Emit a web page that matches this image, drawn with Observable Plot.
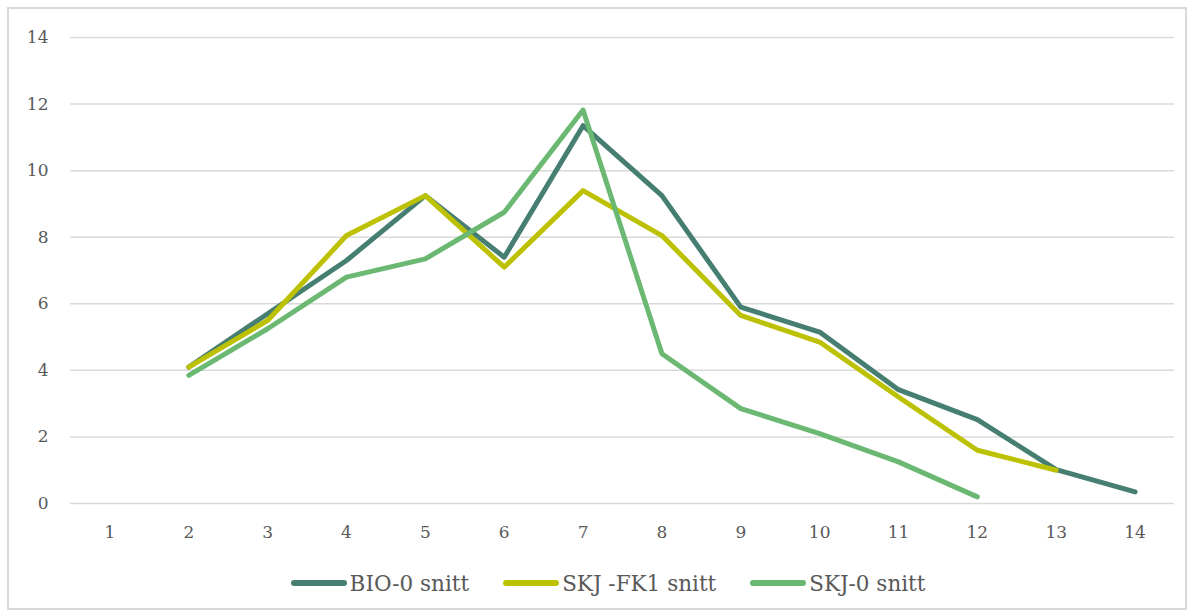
<!DOCTYPE html>
<html>
<head>
<meta charset="utf-8">
<script src="https://cdn.jsdelivr.net/npm/d3@7"></script>
<script src="https://cdn.jsdelivr.net/npm/@observablehq/plot@0.6"></script>
<style>
  html, body { margin: 0; padding: 0; background: #fff; }
  #wrap { position: relative; width: 1192px; height: 615px; overflow: hidden; font-family: "DejaVu Serif", serif; }
  #frame { position: absolute; left: 7px; top: 7px; width: 1180px; height: 603px; border: 2px solid #d9d9d9; box-sizing: border-box; }
  #chart { position: absolute; left: 0; top: 0; }
  #chart svg text { font-family: "DejaVu Serif", serif !important; font-size: 17px !important; fill: #595959; }
  #legend { position: absolute; left: 0; top: 568px; width: 1216px; height: 30px; display: flex; justify-content: center; align-items: center; gap: 34px; font-size: 21.5px; color: #595959; }
  .item { display: flex; align-items: center; }
  .sw { width: 56px; height: 6px; border-radius: 3px; margin-right: 3px; }
</style>
</head>
<body>
<div id="wrap">
  <div id="frame"></div>
  <div id="chart"></div>
  <div id="legend"></div>
</div>
<script>
const categories = [1, 2, 3, 4, 5, 6, 7, 8, 9, 10, 11, 12, 13, 14];
const seriesNames = ["BIO-0 snitt", "SKJ -FK1 snitt", "SKJ-0 snitt"];
const seriesColors = ["#467e71", "#bcc203", "#6ab872"];
const bio0 = [null, 4.1, 5.7, 7.3, 9.25, 7.4, 11.35, 9.25, 5.9, 5.15, 3.42, 2.52, 1.02, 0.35];
const skjFk1 = [null, 4.1, 5.5, 8.05, 9.25, 7.1, 9.4, 8.05, 5.65, 4.85, 3.2, 1.6, 1.0, null];
const skj0 = [null, 3.85, 5.25, 6.8, 7.35, 8.75, 11.82, 4.5, 2.85, 2.1, 1.25, 0.2, null, null];
const yTicks = [0, 2, 4, 6, 8, 10, 12, 14];

const seriesValues = [bio0, skjFk1, skj0];
const rows = [];
seriesValues.forEach((vals, si) => {
  vals.forEach((v, i) => {
    if (v != null) rows.push({series: seriesNames[si], x: categories[i], y: v});
  });
});

const chart = Plot.plot({
  width: 1192,
  height: 560,
  marginLeft: 70,
  marginRight: 18,
  marginTop: 37,
  marginBottom: 57,
  style: {fontFamily: '"DejaVu Serif", serif', fontSize: "17px", color: "#595959", background: "transparent"},
  x: {type: "point", domain: categories, padding: 0.5, round: false, label: null},
  y: {domain: [0, 14], label: null},
  color: {domain: seriesNames, range: seriesColors},
  marks: [
    Plot.ruleY(yTicks, {stroke: "#d9d9d9", strokeWidth: 1.5}),
    Plot.axisY({ticks: yTicks, tickSize: 0, tickPadding: 22, label: null, fontSize: 17}),
    Plot.axisX({ticks: categories, tickSize: 0, tickPadding: 22, label: null, fontSize: 17}),
    Plot.line(rows, {x: "x", y: "y", z: "series", stroke: "series", strokeWidth: 5, strokeLinejoin: "round", strokeLinecap: "round"})
  ]
});
document.getElementById("chart").appendChild(chart);

const legend = document.getElementById("legend");
seriesNames.forEach((name, i) => {
  const item = document.createElement("div");
  item.className = "item";
  const sw = document.createElement("div");
  sw.className = "sw";
  sw.style.background = seriesColors[i];
  const t = document.createElement("span");
  t.textContent = name;
  item.appendChild(sw);
  item.appendChild(t);
  legend.appendChild(item);
});
</script>
</body>
</html>
